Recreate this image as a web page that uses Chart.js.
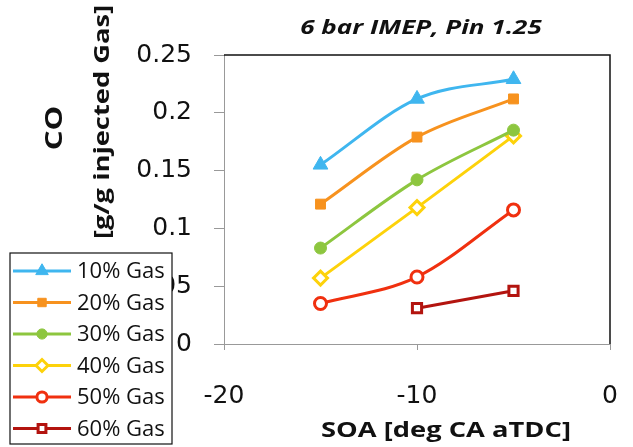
<!DOCTYPE html>
<html>
<head>
<meta charset="utf-8">
<script src="https://cdn.jsdelivr.net/npm/chart.js@4"></script>
<style>
  html, body { margin: 0; padding: 0; background: #fff; }
  #wrap { width: 633px; height: 447px; }
</style>
</head>
<body>
<div id="wrap"><canvas id="chart" width="633" height="447"></canvas></div>
<script>
// start of actuation, deg CA aTDC
const soa = [-15, -10, -5]

// CO per gram of injected gas, one list per gas fraction
const gas10 = [0.155, 0.212, 0.229]
const gas20 = [0.121, 0.179, 0.212]
const gas30 = [0.083, 0.142, 0.185]
const gas40 = [0.057, 0.118, 0.180]
const gas50 = [0.035, 0.058, 0.116]
const gas60 = [null, 0.031, 0.046]

const seriesNames = ['10% Gas', '20% Gas', '30% Gas', '40% Gas', '50% Gas', '60% Gas']
const xTicks = [-20, -10, 0]
const yTicks = [0, 0.05, 0.1, 0.15, 0.2, 0.25]

const FONT = '"Open Sans", "Liberation Sans", sans-serif'
const TICK_FONT = '"DejaVu Sans", sans-serif'

function pts(values) {
  return soa.map((x, i) => ({ x, y: values[i] }))
}

function series(label, values, color, style, open, radius) {
  return {
    label,
    data: pts(values),
    borderColor: color,
    backgroundColor: color,
    borderWidth: 3,
    cubicInterpolationMode: 'monotone',
    pointStyle: style,
    pointRadius: radius,
    pointBackgroundColor: open ? '#fff' : color,
    pointBorderColor: color,
    pointBorderWidth: open ? 3 : 1,
    spanGaps: false,
    clip: false
  }
}

const datasets = [
  series(seriesNames[0], gas10, '#3fb6ef', 'triangle', false, 8.5),
  series(seriesNames[1], gas20, '#f7921e', 'rect', false, 7),
  series(seriesNames[2], gas30, '#8dc63f', 'circle', false, 6),
  series(seriesNames[3], gas40, '#fdd20a', 'rectRot', true, 7),
  series(seriesNames[4], gas50, '#f0300f', 'circle', true, 6),
  series(seriesNames[5], gas60, '#b3140f', 'rect', true, 6.5)
]

// text drawn a little wide, like the rest of the figure's lettering
function wideText(ctx, text, x, y, angle, font) {
  ctx.save()
  ctx.translate(x, y)
  ctx.rotate(angle)
  ctx.scale(1.3, 1)
  ctx.font = font
  ctx.fillText(text, 0, 0)
  ctx.restore()
}

// frame, titles and the boxed legend sitting over the lower-left corner
const decorations = {
  id: 'decorations',
  beforeDatasetsDraw(chart) {
    const { ctx, chartArea: a } = chart
    ctx.save()
    ctx.strokeStyle = '#111'
    ctx.lineWidth = 1.5
    ctx.beginPath()
    ctx.moveTo(a.left, a.top)
    ctx.lineTo(a.right, a.top)
    ctx.lineTo(a.right, a.bottom)
    ctx.stroke()
    ctx.restore()
  },
  afterDraw(chart) {
    const { ctx } = chart
    ctx.save()
    ctx.fillStyle = '#111'
    ctx.textAlign = 'center'
    ctx.textBaseline = 'middle'

    wideText(ctx, '6 bar IMEP, Pin 1.25', 421, 28, 0, 'italic bold 20px ' + FONT)
    wideText(ctx, 'SOA [deg CA aTDC]', 446, 431, 0, 'bold 21px ' + FONT)
    wideText(ctx, 'CO', 55, 128, -Math.PI / 2, 'bold 24px ' + FONT)
    wideText(ctx, '[g/g injected Gas]', 103, 122, -Math.PI / 2, 'bold 21px ' + FONT)

    // legend
    const box = { x: 10, y: 253, w: 162, h: 191 }
    ctx.fillStyle = '#fff'
    ctx.fillRect(box.x, box.y, box.w, box.h)
    ctx.strokeStyle = '#111'
    ctx.lineWidth = 1.2
    ctx.strokeRect(box.x, box.y, box.w, box.h)

    const rowH = 31.5
    chart.data.datasets.forEach((ds, i) => {
      const cy = box.y + 18 + i * rowH
      ctx.strokeStyle = ds.borderColor
      ctx.lineWidth = 3
      ctx.beginPath()
      ctx.moveTo(box.x + 3, cy)
      ctx.lineTo(box.x + 61, cy)
      ctx.stroke()
      ctx.lineWidth = ds.pointBorderWidth
      ctx.fillStyle = ds.pointBackgroundColor
      ctx.strokeStyle = ds.pointBorderColor
      Chart.helpers.drawPoint(ctx, {
        pointStyle: ds.pointStyle,
        radius: ds.pointRadius * 0.85,
        rotation: 0,
        borderWidth: ds.pointBorderWidth
      }, box.x + 32, cy)
      ctx.fillStyle = '#111'
      ctx.textAlign = 'left'
      ctx.font = '22px ' + FONT
      ctx.fillText(ds.label, box.x + 67, cy + 1)
    })
    ctx.restore()
  }
}

new Chart(document.getElementById('chart').getContext('2d'), {
  type: 'line',
  data: { datasets },
  options: {
    responsive: false,
    animation: false,
    layout: { padding: { top: 55, right: 23, bottom: 0, left: 0 } },
    plugins: {
      legend: { display: false },
      title: { display: false },
      tooltip: { enabled: false }
    },
    scales: {
      x: {
        type: 'linear',
        min: xTicks[0],
        max: xTicks[xTicks.length - 1],
        afterBuildTicks: s => { s.ticks = xTicks.map(v => ({ value: v })) },
        afterFit: s => { s.height = 103; s.paddingLeft = 0; s.paddingRight = 0 },
        grid: { drawOnChartArea: false, drawTicks: true, tickLength: 6, color: '#999' },
        border: { display: true, color: '#999', width: 1 },
        ticks: {
          color: '#111',
          font: { family: TICK_FONT, size: 25 },
          padding: 31,
          maxRotation: 0,
          callback: v => String(v)
        }
      },
      y: {
        min: yTicks[0],
        max: yTicks[yTicks.length - 1],
        afterBuildTicks: s => { s.ticks = yTicks.map(v => ({ value: v })) },
        afterFit: s => { s.width = 224 },
        grid: { drawOnChartArea: false, drawTicks: true, tickLength: 10, color: '#999' },
        border: { display: true, color: '#999', width: 1 },
        ticks: {
          color: '#111',
          font: { family: TICK_FONT, size: 25 },
          padding: 22,
          callback: v => String(parseFloat(v.toFixed(2)))
        }
      }
    }
  },
  plugins: [decorations]
})
</script>
</body>
</html>
